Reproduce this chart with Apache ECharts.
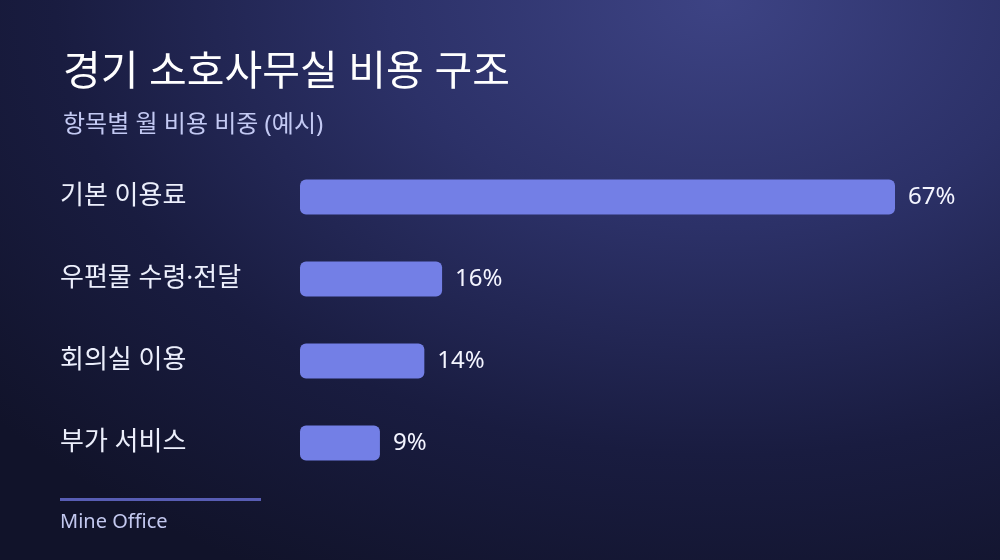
<!DOCTYPE html>
<html>
<head>
<meta charset="utf-8">
<script src="https://cdn.jsdelivr.net/npm/echarts@6/dist/echarts.min.js"></script>
<style>
  html, body { margin: 0; padding: 0; }
  body {
    width: 1000px; height: 560px; overflow: hidden;
    background: radial-gradient(ellipse 950px 650px at 720px 0px, #3d4384 0%, #2c3168 35%, #191c40 70%, #11132a 100%);
  }
  #chart { width: 1000px; height: 560px; }
</style>
</head>
<body>
<div id="chart"></div>
<script>
// 항목별 월 비용 비중 (%)
const categories = ['기본 이용료', '우편물 수령·전달', '회의실 이용', '부가 서비스'];
const shares = [67, 16, 14, 9];

const font = "'Noto Sans', 'Noto Sans CJK KR', sans-serif";

const chart = echarts.init(document.getElementById('chart'));

const option = {
  backgroundColor: 'transparent',
  title: [
    {
      text: '경기 소호사무실 비용 구조',
      left: 58,
      top: 48,
      textStyle: { color: '#ffffff', fontSize: 41, fontWeight: 'normal', fontFamily: font }
    },
    {
      text: '항목별 월 비용 비중 (예시)',
      left: 58,
      top: 108,
      textStyle: { color: '#c3c9f3', fontSize: 24, fontWeight: 'normal', fontFamily: font }
    }
  ],
  grid: { left: 300, right: 105, top: 156, bottom: 76, containLabel: false },
  xAxis: {
    type: 'value',
    min: 0,
    max: 67,
    show: false
  },
  yAxis: {
    type: 'category',
    data: categories,
    inverse: true,
    axisLine: { show: false },
    axisTick: { show: false },
    splitLine: { show: false },
    axisLabel: {
      align: 'left',
      margin: 240,
      color: '#eceffc',
      fontSize: 26,
      fontFamily: font
    }
  },
  series: [{
    type: 'bar',
    data: shares,
    barWidth: 35,
    itemStyle: { color: '#737fe6', borderRadius: 6 },
    label: {
      show: true,
      position: 'right',
      distance: 13,
      formatter: '{c}%',
      color: '#f4f5ff',
      fontSize: 24,
      fontFamily: font
    },
    silent: true
  }],
  graphic: [
    {
      type: 'rect',
      left: 60, top: 498,
      shape: { width: 201, height: 3 },
      style: { fill: '#585db4' }
    },
    {
      type: 'text',
      left: 60, top: 512,
      style: { text: 'Mine Office', fill: '#c3c8ef', fontSize: 20, fontFamily: font }
    }
  ]
};

chart.setOption(option);
</script>
</body>
</html>
